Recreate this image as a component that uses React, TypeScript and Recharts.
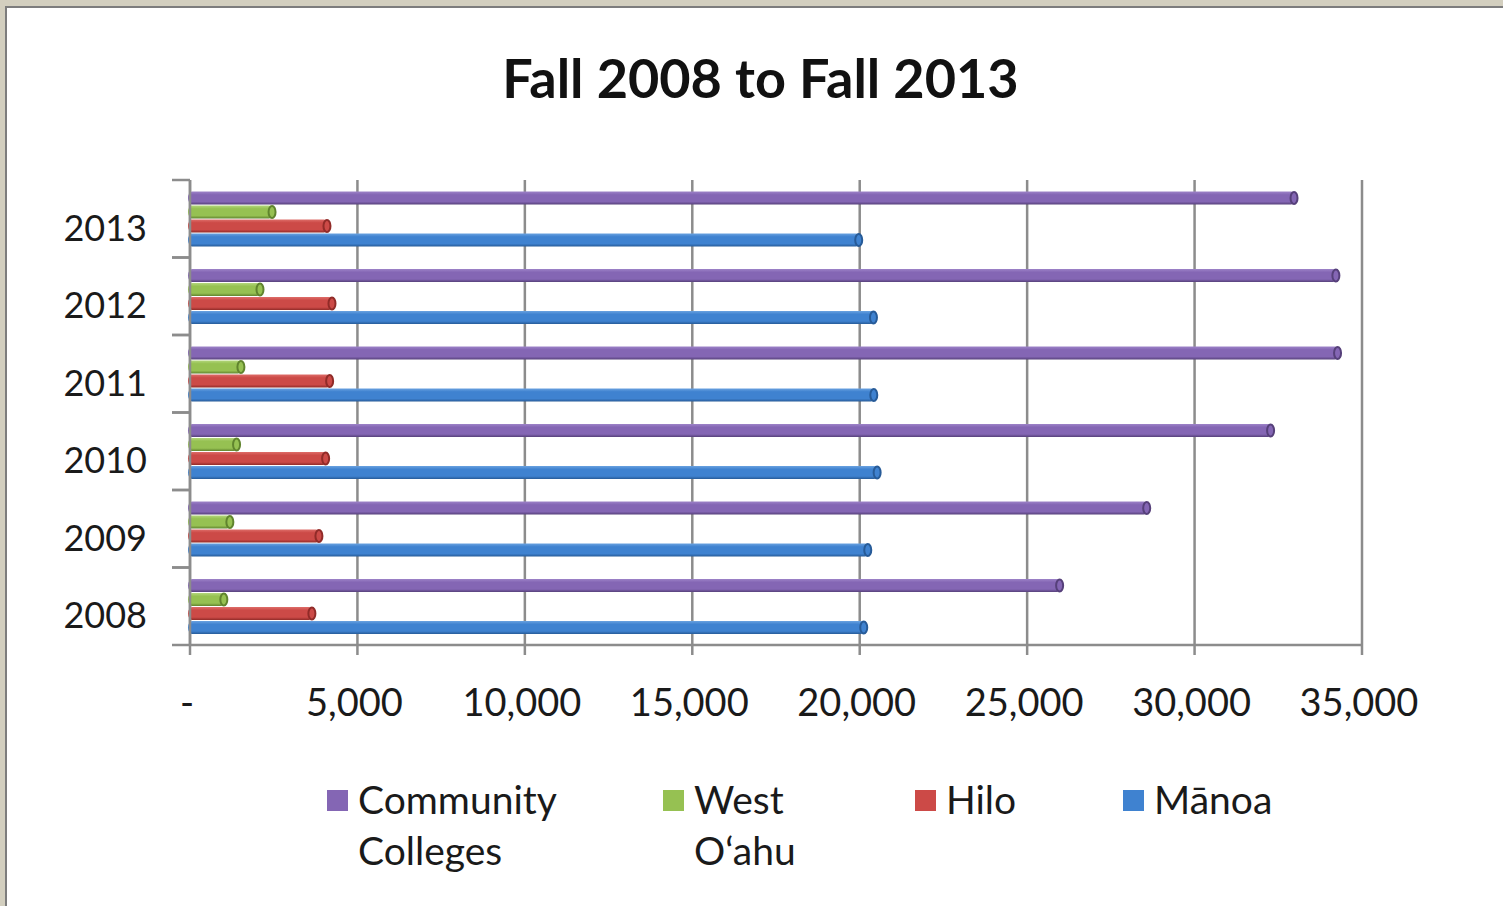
import React from "react";
import { Bar, BarChart, CartesianGrid, XAxis, YAxis } from "recharts";

// enrollment, Fall 2008 .. Fall 2013
const years = ["2008", "2009", "2010", "2011", "2012", "2013"];
const communityColleges = [26000, 28600, 32300, 34300, 34250, 33000];
const westOahu = [1040, 1220, 1420, 1550, 2120, 2480];
const hilo = [3670, 3880, 4080, 4200, 4270, 4120];
const manoa = [20150, 20270, 20550, 20450, 20440, 20000];
const xTicks = [0, 5000, 10000, 15000, 20000, 25000, 30000, 35000];

const series = [
  { key: "cc", name: ["Community", "Colleges"], color: "#8466b4", dark: "#56407a", light: "#9d83c8" },
  { key: "wo", name: ["West", "O\u2018ahu"], color: "#96c152", dark: "#60842e", light: "#b3d67c" },
  { key: "hilo", name: ["Hilo"], color: "#cc4a47", dark: "#912b28", light: "#de6d69" },
  { key: "manoa", name: ["M\u0101noa"], color: "#3f82d0", dark: "#275b98", light: "#6aa2e0" },
];

const data = years.map((year, i) => ({
  year,
  cc: communityColleges[i],
  wo: westOahu[i],
  hilo: hilo[i],
  manoa: manoa[i],
}));

const FONT = "Lato, 'Open Sans', sans-serif";
const GRID = "#8c8c8c";

function makeTube(s: (typeof series)[number]) {
  return (props: any) => {
    const { x, y, width, height, index } = props;
    if (!width || width <= 0) return null;
    const id = `tube-${s.key}-${index}`;
    const top = y + 0.5;
    const h = height - 1;
    const r = h / 2;
    return (
      <g>
        <defs>
          <linearGradient id={id} x1="0" y1="0" x2="0" y2="1">
            <stop offset="0%" stopColor={s.light} />
            <stop offset="25%" stopColor={s.color} />
            <stop offset="78%" stopColor={s.color} />
            <stop offset="100%" stopColor={s.dark} />
          </linearGradient>
        </defs>
        <rect x={x - 2} y={top} width={width + 2} height={h} rx={4} ry={r} fill={`url(#${id})`} />
        <ellipse cx={x + width - 1} cy={top + r} rx={3.5} ry={r - 0.5} fill={s.color} stroke={s.dark} strokeWidth={2} />
      </g>
    );
  };
}

function YearTick(props: any) {
  const { x, y, payload } = props;
  const half = payload?.offset ?? 38.7;
  return (
    <g>
      <line x1={172} x2={190} y1={y - half} y2={y - half} stroke={GRID} strokeWidth={2.5} />
      <line x1={172} x2={190} y1={y + half} y2={y + half} stroke={GRID} strokeWidth={2.5} />
      <text x={x - 35} y={y + 8} textAnchor="end" dominantBaseline="central" fontFamily={FONT} fontSize={36} fill="#1a1a1a">
        {payload.value}
      </text>
    </g>
  );
}

function ValueTick(props: any) {
  const { x, y, payload } = props;
  const label = payload.value === 0 ? "-" : payload.value.toLocaleString("en-US");
  return (
    <text x={x - 3} y={y + 44} textAnchor="middle" dominantBaseline="central" fontFamily={FONT} fontSize={38} fill="#1a1a1a">
      {label}
    </text>
  );
}

function LegendBlock() {
  const lefts = [327, 663, 915, 1123];
  return (
    <>
      {series.map((s, i) => (
        <div key={s.key} style={{ position: "absolute", left: lefts[i], top: 774, display: "flex", alignItems: "flex-start" }}>
          <div style={{ width: 21, height: 21, background: s.color, marginTop: 16, marginRight: 10 }} />
          <div style={{ fontFamily: FONT, fontSize: 39, lineHeight: "51px", color: "#1a1a1a" }}>
            {s.name.map((line) => (
              <div key={line}>{line}</div>
            ))}
          </div>
        </div>
      ))}
    </>
  );
}

export default function App() {
  return (
    <div style={{ position: "relative", width: 1503, height: 906, background: "#d3cfbf", overflow: "hidden" }}>
      <style>{"body{margin:0}"}</style>
      <div
        style={{
          position: "absolute",
          left: 5,
          top: 6,
          right: 0,
          bottom: 0,
          background: "#fff",
          borderLeft: "2px solid #7d7d7d",
          borderTop: "2px solid #7d7d7d",
        }}
      />
      <div
        style={{
          position: "absolute",
          left: 9,
          width: 1503,
          top: 45,
          textAlign: "center",
          fontFamily: FONT,
          fontWeight: 700,
          fontSize: 54,
          color: "#111",
        }}
      >
        Fall 2008 to Fall 2013
      </div>
      <div style={{ position: "absolute", left: 0, top: 0 }}>
        <BarChart
          width={1503}
          height={906}
          data={data}
          layout="vertical"
          margin={{ top: 180, right: 141, left: 40, bottom: 201 }}
          barSize={14}
          barGap={0}
        >
          <CartesianGrid horizontal={false} stroke={GRID} strokeWidth={2.5} />
          <XAxis
            type="number"
            domain={[0, 35000]}
            ticks={xTicks}
            height={60}
            axisLine={{ stroke: GRID, strokeWidth: 2.5 }}
            tickLine={{ stroke: GRID, strokeWidth: 2.5 }}
            tickSize={10}
            tick={<ValueTick />}
            interval={0}
          />
          <YAxis
            type="category"
            dataKey="year"
            reversed
            width={150}
            axisLine={{ stroke: GRID, strokeWidth: 2.5 }}
            tickLine={false}
            tick={<YearTick />}
            interval={0}
          />
          {series.map((s) => (
            <Bar key={s.key} dataKey={s.key} fill={s.color} shape={makeTube(s)} isAnimationActive={false} />
          ))}
        </BarChart>
      </div>
      <LegendBlock />
    </div>
  );
}
